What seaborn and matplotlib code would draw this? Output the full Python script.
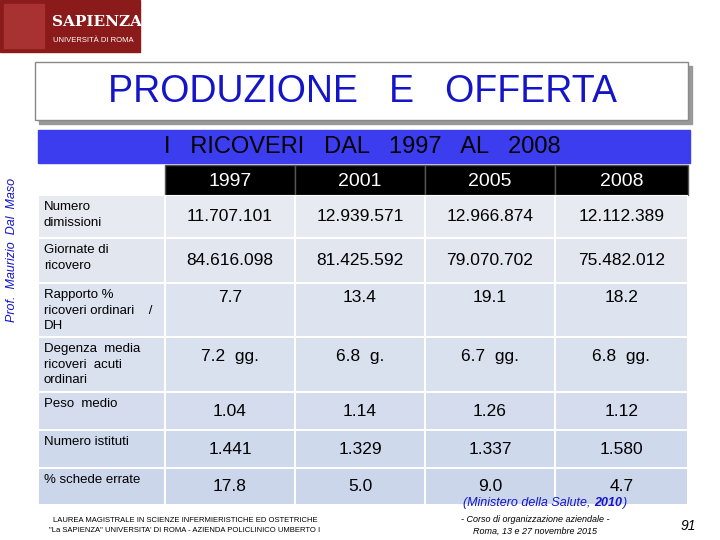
import matplotlib
matplotlib.use("Agg")
import matplotlib.pyplot as plt
import seaborn as sns
import numpy as np
import pandas as pd
from matplotlib.patches import Rectangle

plt.rcParams['font.family'] = ['Liberation Sans', 'DejaVu Sans']

years = ["1997", "2001", "2005", "2008"]
row_labels = ["Numero\ndimissioni", "Giornate di\nricovero", "Rapporto %\nricoveri ordinari    /\nDH",
              "Degenza  media\nricoveri  acuti\nordinari", "Peso  medio", "Numero istituti", "% schede errate"]
values = [
    ["11.707.101", "12.939.571", "12.966.874", "12.112.389"],
    ["84.616.098", "81.425.592", "79.070.702", "75.482.012"],
    ["7.7", "13.4", "19.1", "18.2"],
    ["7.2  gg.", "6.8  g.", "6.7  gg.", "6.8  gg."],
    ["1.04", "1.14", "1.26", "1.12"],
    ["1.441", "1.329", "1.337", "1.580"],
    ["17.8", "5.0", "9.0", "4.7"],
]
row_h = [43, 45, 54, 55, 38, 38, 37]
val_off = [0, 0, -13, -8, 0, 0, 0]

fig = plt.figure(figsize=(7.2, 5.4), dpi=100)
W, H = 720, 540
def fx(x): return x / W
def fy(y): return 1 - y / H

bg = fig.add_axes([0, 0, 1, 1]); bg.set_xlim(0, W); bg.set_ylim(H, 0); bg.axis("off")
bg.add_patch(Rectangle((0, 0), W, H, color="white"))
# logo
bg.add_patch(Rectangle((0, 0), 140, 52, color="#8b1a1a"))
bg.add_patch(Rectangle((4, 4), 40, 44, color="#a83232"))
bg.text(52, 22, "SAPIENZA", color="white", fontsize=11, fontweight="bold", va="center", family="DejaVu Serif")
bg.text(53, 40, "UNIVERSITÀ DI ROMA", color="white", fontsize=5.5, va="center")
# title box
bg.add_patch(Rectangle((39, 66), 653, 58, color="#999999"))
bg.add_patch(Rectangle((35, 62), 653, 58, facecolor="white", edgecolor="#888888", lw=1))
bg.text(362, 92, "PRODUZIONE   E   OFFERTA", color="#1515c8", fontsize=27, ha="center", va="center")
# blue band
bg.add_patch(Rectangle((38, 130), 652, 33, color="#3d3df0"))
bg.text(362, 147, "I   RICOVERI   DAL   1997   AL   2008", color="black", fontsize=17, ha="center", va="center")
bg.text(12, 250, "Prof.  Maurizio  Dal  Maso", color="#1515c8", fontsize=9, style="italic",
        rotation=90, ha="center", va="center")
# header
cx = [165, 295, 425, 555, 688]
for i, yv in enumerate(years):
    bg.add_patch(Rectangle((cx[i], 165), cx[i+1]-cx[i], 30, facecolor="black", edgecolor="#555555", lw=1))
    bg.text((cx[i]+cx[i+1])/2, 181, yv, color="white", fontsize=14, ha="center", va="center")

# table
top, bottom = 195, 505
ax = fig.add_axes([fx(38), fy(bottom), fx(688-38), (bottom-top)/H])
edges = np.concatenate([[0], np.cumsum(row_h)])
shade = pd.DataFrame(np.tile(np.arange(len(row_labels))[:, None], (1, 5)))
ax.pcolormesh([0, 127, 257, 387, 517, 650], edges, shade.values,
              cmap=sns.light_palette("#b8c8e8", as_cmap=True), vmin=-2, vmax=10,
              edgecolors="white", linewidth=1.2)
ax.set_xlim(0, 650); ax.set_ylim(edges[-1], 0); ax.axis("off")
colc = [(cx[i]+cx[i+1])/2 - 38 for i in range(4)]
for r, lab in enumerate(row_labels):
    y0 = edges[r]
    ax.text(6, y0 + 6, lab, fontsize=9.5, va="top", ha="left", linespacing=1.4)
    for c in range(4):
        ax.text(colc[c], (edges[r]+edges[r+1])/2 + val_off[r], values[r][c], fontsize=12.5,
                ha="center", va="center")

top_ax = fig.add_axes([0, 0, 1, 1]); top_ax.set_xlim(0, W); top_ax.set_ylim(H, 0); top_ax.axis("off")
top_ax.text(594, 503, "(Ministero della Salute, ", fontsize=9, style="italic", color="#1515c8", ha="right", va="center")
top_ax.text(594, 503, "2010", fontsize=9, style="italic", fontweight="bold", color="#1515c8", ha="left", va="center")
top_ax.text(622, 503, ")", fontsize=9, style="italic", color="#1515c8", ha="left", va="center")
# footer
top_ax.text(185, 520, "LAUREA MAGISTRALE IN SCIENZE INFERMIERISTICHE ED OSTETRICHE", fontsize=5.5, ha="center", va="center")
top_ax.text(185, 531, "\"La SAPIENZA\" UNIVERSITA' DI ROMA - AZIENDA POLICLINICO UMBERTO I", fontsize=5.5, ha="center", va="center")
top_ax.text(535, 520, "- Corso di organizzazione aziendale -", fontsize=6.5, style="italic", ha="center", va="center")
top_ax.text(535, 531, "Roma, 13 e 27 novembre 2015", fontsize=6.5, style="italic", ha="center", va="center")
top_ax.text(688, 526, "91", fontsize=10, style="italic", ha="center", va="center")

fig.savefig("out.png", dpi=100)
